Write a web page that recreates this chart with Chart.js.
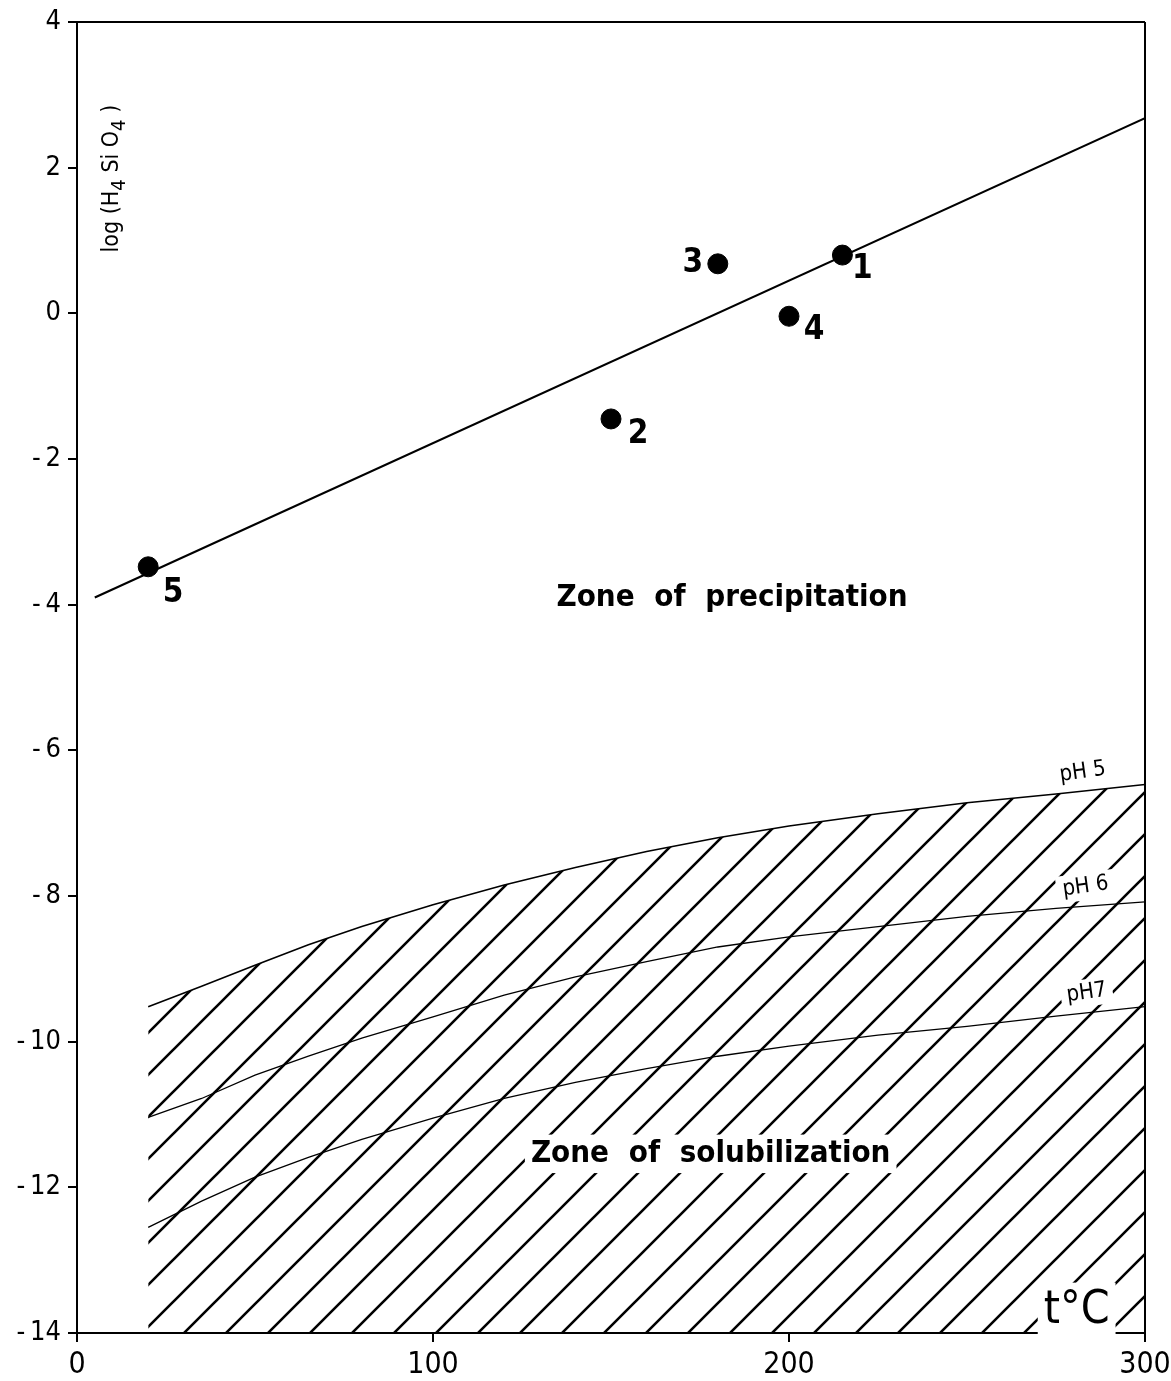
<!DOCTYPE html>
<html>
<head>
<meta charset="utf-8">
<script src="https://cdn.jsdelivr.net/npm/chart.js@4/dist/chart.umd.min.js"></script>
<style>
  html, body { margin: 0; padding: 0; background: #fff; }
  canvas { display: block; }
</style>
</head>
<body>
<canvas id="chart" width="1171" height="1381" style="width:1171px;height:1381px"></canvas>
<script>
// measured samples (temperature °C, log H4SiO4)
const sampleTemp = [215, 150, 180, 200, 20];
const sampleLog = [0.8, -1.45, 0.68, -0.04, -3.48];
const sampleNames = ["1", "2", "3", "4", "5"];

// saturation line
const fitTemp = [5, 300];
const fitLog = [-3.9, 2.68];

// solubility curves
const curveTemp = [20, 35, 50, 65, 80, 100, 120, 140, 160, 180, 200, 225, 250, 275, 300];
const ph5 = [-9.52, -9.24, -8.95, -8.67, -8.42, -8.12, -7.85, -7.61, -7.39, -7.2, -7.04, -6.87, -6.72, -6.6, -6.47];
const ph6 = [-11.04, -10.78, -10.46, -10.2, -9.95, -9.66, -9.36, -9.11, -8.9, -8.7, -8.56, -8.42, -8.28, -8.17, -8.08];
const ph7 = [-12.55, -12.19, -11.86, -11.59, -11.34, -11.05, -10.78, -10.56, -10.37, -10.2, -10.06, -9.91, -9.79, -9.65, -9.52];

const xTicks = [0, 100, 200, 300];
const yTicks = [-14, -12, -10, -8, -6, -4, -2, 0, 2, 4];

const TICK_FONT = "'Liberation Sans Narrow', 'DejaVu Sans Condensed', sans-serif";
const TEXT_FONT = "'DejaVu Sans', sans-serif";
const COND_FONT = "'DejaVu Sans Condensed', 'DejaVu Sans', sans-serif";

const toXY = (xs, ys) => xs.map((x, i) => ({ x, y: ys[i] }));

function hatchPattern() {
  const size = 42;
  const c = document.createElement("canvas");
  c.width = size;
  c.height = size;
  const g = c.getContext("2d");
  g.strokeStyle = "#000";
  g.lineWidth = 2.6;
  g.beginPath();
  g.moveTo(-2, size + 2);
  g.lineTo(size + 2, -2);
  g.moveTo(-2, 2);
  g.lineTo(2, -2);
  g.moveTo(size - 2, size + 2);
  g.lineTo(size + 2, size - 2);
  g.stroke();
  const p = document.getElementById("chart").getContext("2d").createPattern(c, "repeat");
  if (p.setTransform) p.setTransform(new DOMMatrix([1, 0, 0, 1, 5, 0]));
  return p;
}

// text placed in data coordinates
const notes = [
  { text: "Zone of precipitation", x: 184, y: -3.91, size: 31, bold: true, box: false, font: COND_FONT, ws: "10px" },
  { text: "Zone of solubilization", x: 178, y: -11.54, size: 31, bold: true, box: true, font: COND_FONT, ws: "10px" },
  { text: "t°C", x: 280.8, y: -13.7, size: 46, bold: false, box: true, font: COND_FONT },
  { text: "pH 5", x: 282.5, y: -6.3, size: 22, box: true, rot: -0.14, font: COND_FONT },
  { text: "pH 6", x: 283.3, y: -7.87, size: 22, box: true, rot: -0.14, font: COND_FONT },
  { text: "pH7", x: 283.6, y: -9.33, size: 22, box: true, rot: -0.14, font: COND_FONT },
];
const nameOffsets = [[20, 14], [27, 15], [-25, 0], [25, 14], [25, 27]];

const textPlugin = {
  id: "texts",
  afterDatasetsDraw(chart) {
    const { ctx, scales } = chart;
    const xs = scales.x, ys = scales.y;
    ctx.save();
    ctx.fillStyle = "#000";
    ctx.textAlign = "center";
    ctx.textBaseline = "middle";

    notes.forEach((n) => {
      const px = xs.getPixelForValue(n.x);
      const py = ys.getPixelForValue(n.y);
      ctx.save();
      ctx.translate(px, py);
      if (n.rot) ctx.rotate(n.rot);
      ctx.font = (n.bold ? "bold " : "") + n.size + "px " + n.font;
      ctx.wordSpacing = n.ws || "0px";
      if (n.box) {
        const w = ctx.measureText(n.text).width;
        ctx.fillStyle = "#fff";
        ctx.fillRect(-w / 2 - 6, -n.size * 0.62, w + 12, n.size * 1.24);
        ctx.fillStyle = "#000";
      }
      ctx.fillText(n.text, 0, 0);
      ctx.restore();
    });

    // sample numbers
    ctx.font = "bold 33px " + TICK_FONT;
    sampleNames.forEach((s, i) => {
      const px = xs.getPixelForValue(sampleTemp[i]) + nameOffsets[i][0];
      const py = ys.getPixelForValue(sampleLog[i]) + nameOffsets[i][1];
      ctx.fillText(s, px, py);
    });

    // rotated y axis title with subscripts
    ctx.save();
    ctx.translate(xs.getPixelForValue(9.5), ys.getPixelForValue(1.85));
    ctx.rotate(-Math.PI / 2);
    ctx.textAlign = "left";
    ctx.textBaseline = "alphabetic";
    const parts = [["log (H", 0], ["4", 1], [" Si O", 0], ["4", 1], [" )", 0]];
    const big = "23px " + COND_FONT, small = "20px " + COND_FONT;
    let total = 0;
    parts.forEach(([t, sub]) => { ctx.font = sub ? small : big; total += ctx.measureText(t).width; });
    let cx = -total / 2;
    parts.forEach(([t, sub]) => {
      ctx.font = sub ? small : big;
      ctx.fillText(t, cx, sub ? 14 : 7);
      cx += ctx.measureText(t).width;
    });
    ctx.restore();
    ctx.restore();
  },
};

new Chart(document.getElementById("chart"), {
  type: "scatter",
  data: {
    datasets: [
      {
        label: "pH 5",
        data: toXY(curveTemp, ph5),
        showLine: true,
        borderColor: "#000",
        borderWidth: 1.6,
        pointRadius: 0,
        fill: "start",
        backgroundColor: hatchPattern(),
        order: 3,
      },
      {
        label: "pH 6",
        data: toXY(curveTemp, ph6),
        showLine: true,
        borderColor: "#000",
        borderWidth: 1.3,
        pointRadius: 0,
        fill: false,
        order: 2,
      },
      {
        label: "pH 7",
        data: toXY(curveTemp, ph7),
        showLine: true,
        borderColor: "#000",
        borderWidth: 1.3,
        pointRadius: 0,
        fill: false,
        order: 2,
      },
      {
        label: "saturation",
        data: toXY(fitTemp, fitLog),
        showLine: true,
        borderColor: "#000",
        borderWidth: 2.2,
        pointRadius: 0,
        fill: false,
        order: 1,
      },
      {
        label: "samples",
        data: toXY(sampleTemp, sampleLog),
        showLine: false,
        pointRadius: 10,
        pointBackgroundColor: "#000",
        pointBorderColor: "#000",
        order: 0,
      },
    ],
  },
  options: {
    responsive: false,
    animation: false,
    layout: { padding: { top: 22, right: 26, left: 0, bottom: 0 } },
    plugins: { legend: { display: false }, tooltip: { enabled: false } },
    scales: {
      x: {
        type: "linear",
        min: 0,
        max: 300,
        afterBuildTicks: (s) => { s.ticks = xTicks.map((v) => ({ value: v })); },
        afterFit: (s) => { s.height = 48; s.paddingLeft = 0; s.paddingRight = 0; },
        border: { color: "#000", width: 2 },
        grid: {
          color: (c) => (c.tick && c.tick.value === 300 ? "#000" : "rgba(0,0,0,0)"),
          lineWidth: 2,
          tickColor: "#000",
          tickLength: 9,
        },
        ticks: { color: "#000", padding: 5, font: { family: TICK_FONT, size: 30 } },
      },
      y: {
        type: "linear",
        min: -14,
        max: 4,
        afterBuildTicks: (s) => { s.ticks = yTicks.map((v) => ({ value: v })); },
        afterFit: (s) => { s.width = 77; s.paddingTop = 0; s.paddingBottom = 0; },
        border: { color: "#000", width: 2 },
        grid: {
          color: (c) => (c.tick && c.tick.value === 4 ? "#000" : "rgba(0,0,0,0)"),
          lineWidth: 2,
          tickColor: "#000",
          tickLength: 9,
        },
        ticks: {
          color: "#000",
          padding: 7,
          font: { family: TICK_FONT, size: 27 },
          callback: (v) => (v < 0 ? "-\u2009" + Math.abs(v) : String(v)),
        },
      },
    },
  },
  plugins: [textPlugin],
});
</script>
</body>
</html>
